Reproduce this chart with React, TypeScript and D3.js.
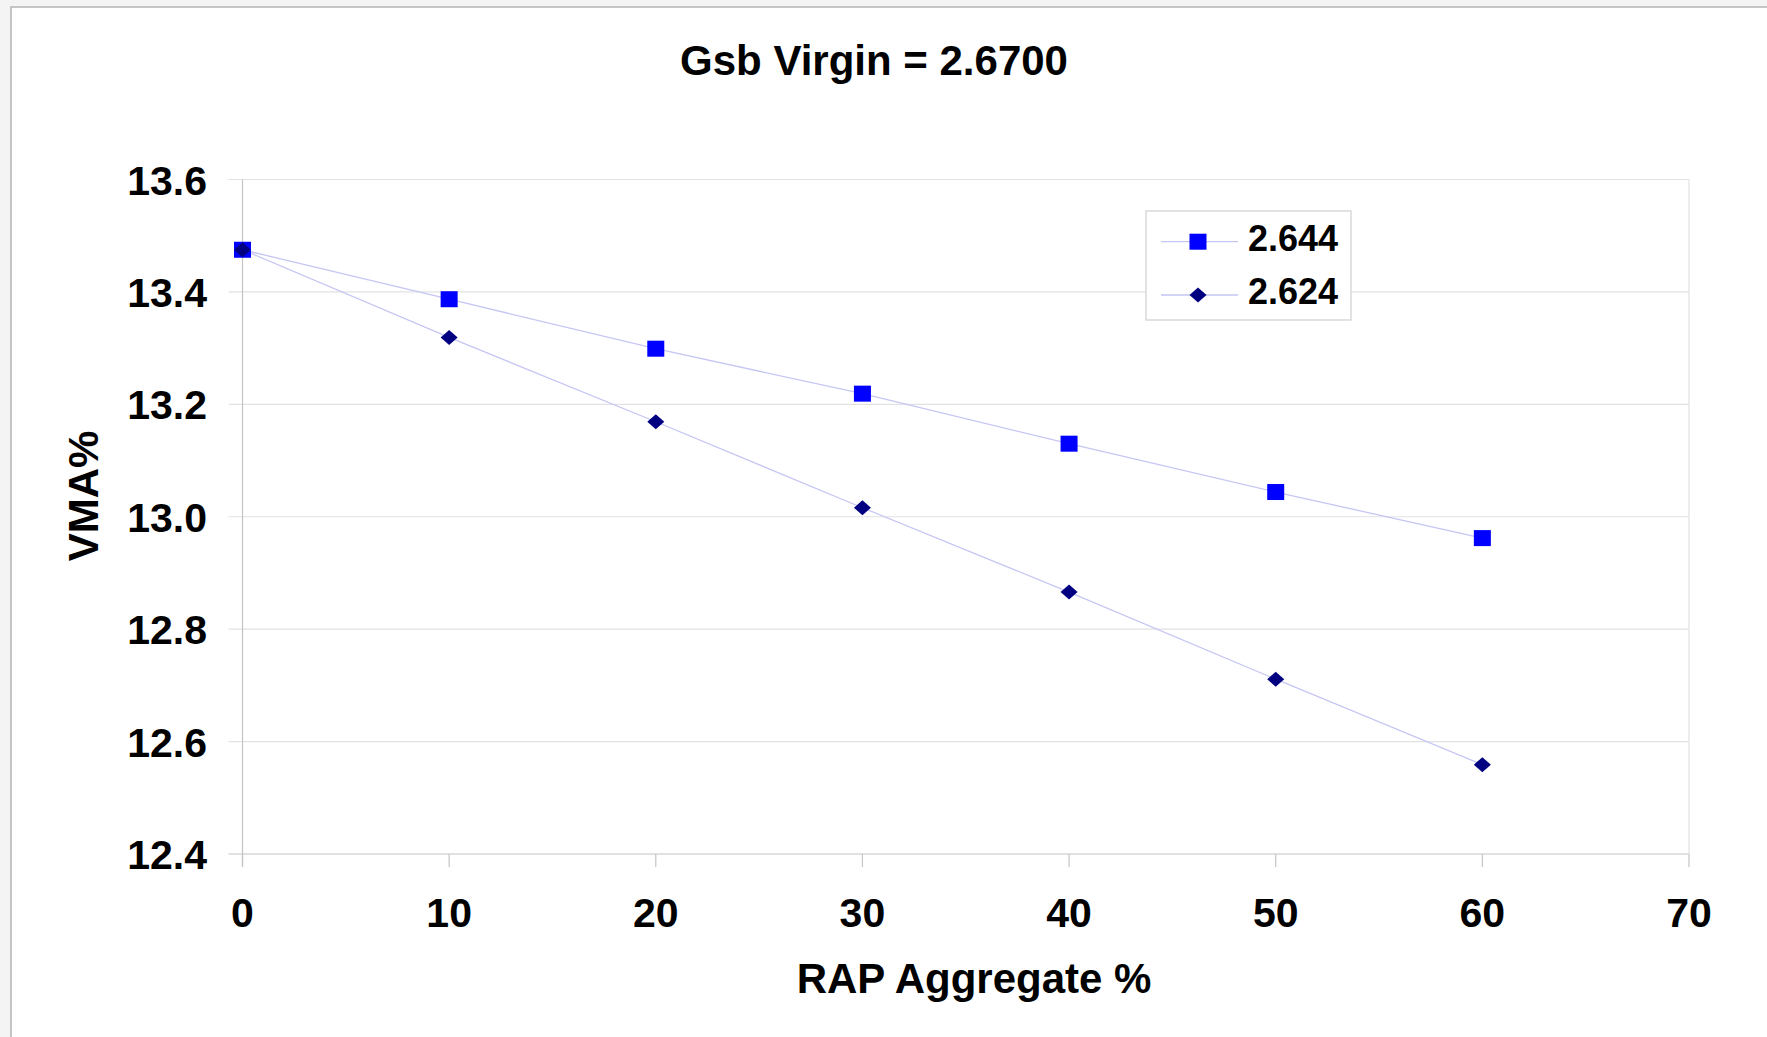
import { useRef, useEffect } from "react";
import * as d3 from "d3";

const rapPercent = [0, 10, 20, 30, 40, 50, 60];
const vma2644 = [13.475, 13.387, 13.299, 13.219, 13.13, 13.044, 12.962];
const vma2624 = [13.475, 13.319, 13.169, 13.016, 12.866, 12.711, 12.559];
const seriesNames = ["2.644", "2.624"];
const xTicks = [0, 10, 20, 30, 40, 50, 60, 70];
const yTicks = [12.4, 12.6, 12.8, 13.0, 13.2, 13.4, 13.6];

const W = 1767;
const H = 1037;
const FONT = "'Liberation Sans', Arial, sans-serif";

const App = () => {
  const svgRef = useRef<SVGSVGElement | null>(null);

  useEffect(() => {
    if (!svgRef.current) return;
    const svg = d3.select(svgRef.current);
    svg.selectAll("*").remove();

    // background + chart frame
    svg.append("rect").attr("width", W).attr("height", H).attr("fill", "#f4f4f4");
    svg
      .append("rect")
      .attr("x", 11)
      .attr("y", 7)
      .attr("width", W)
      .attr("height", H)
      .attr("fill", "#fff")
      .attr("stroke", "#b4b4b4")
      .attr("stroke-width", 1.5);

    const x = d3.scaleLinear().domain([0, 70]).range([242.5, 1689]);
    const y = d3.scaleLinear().domain([12.4, 13.6]).range([854, 179.5]);

    const g = svg.append("g");

    // gridlines
    g.selectAll("line.grid")
      .data(yTicks)
      .enter()
      .append("line")
      .attr("x1", x(0) - 14)
      .attr("x2", x(70))
      .attr("y1", (d) => y(d))
      .attr("y2", (d) => y(d))
      .attr("stroke", (d) => (d === 12.4 ? "#c4c4c4" : "#e2e2e2"))
      .attr("stroke-width", 1.2);

    // right border of plot
    g.append("line")
      .attr("x1", x(70))
      .attr("x2", x(70))
      .attr("y1", y(13.6))
      .attr("y2", y(12.4))
      .attr("stroke", "#e2e2e2")
      .attr("stroke-width", 1.2);

    // y axis line
    g.append("line")
      .attr("x1", x(0))
      .attr("x2", x(0))
      .attr("y1", y(13.6))
      .attr("y2", y(12.4) + 13)
      .attr("stroke", "#c4c4c4")
      .attr("stroke-width", 1.2);

    // x ticks
    g.selectAll("line.xtick")
      .data(xTicks)
      .enter()
      .append("line")
      .attr("x1", (d) => x(d))
      .attr("x2", (d) => x(d))
      .attr("y1", y(12.4))
      .attr("y2", y(12.4) + 13)
      .attr("stroke", "#c4c4c4")
      .attr("stroke-width", 1.2);

    // tick labels
    g.selectAll("text.xl")
      .data(xTicks)
      .enter()
      .append("text")
      .attr("x", (d) => x(d))
      .attr("y", 927)
      .attr("text-anchor", "middle")
      .attr("font-family", FONT)
      .attr("font-weight", "bold")
      .attr("font-size", 41)
      .text((d) => d);

    g.selectAll("text.yl")
      .data(yTicks)
      .enter()
      .append("text")
      .attr("x", 207)
      .attr("y", (d) => y(d) + 15)
      .attr("text-anchor", "end")
      .attr("font-family", FONT)
      .attr("font-weight", "bold")
      .attr("font-size", 41)
      .text((d) => d.toFixed(1));

    // series lines
    const line = d3
      .line<number>()
      .x((_, i) => x(rapPercent[i]))
      .y((d) => y(d));

    [vma2624, vma2644].forEach((s) => {
      g.append("path")
        .attr("d", line(s))
        .attr("fill", "none")
        .attr("stroke", "#c6c6f4")
        .attr("stroke-width", 1.3);
    });

    const diamond = (cx: number, cy: number) =>
      `M${cx - 8.5},${cy} L${cx},${cy - 7.5} L${cx + 8.5},${cy} L${cx},${cy + 7.5} Z`;

    // squares
    g.selectAll("rect.sq")
      .data(vma2644)
      .enter()
      .append("rect")
      .attr("x", (_, i) => x(rapPercent[i]) - 8.5)
      .attr("y", (d) => y(d) - 8)
      .attr("width", 17)
      .attr("height", 16)
      .attr("fill", "#0000ff");

    // diamonds
    g.selectAll("path.dm")
      .data(vma2624)
      .enter()
      .append("path")
      .attr("d", (d, i) => diamond(x(rapPercent[i]), y(d)))
      .attr("fill", "#000080");

    // legend
    const lg = svg.append("g");
    lg.append("rect")
      .attr("x", 1146)
      .attr("y", 211)
      .attr("width", 205)
      .attr("height", 109)
      .attr("fill", "#fff")
      .attr("stroke", "#cfcfcf")
      .attr("stroke-width", 1.2);
    const rows = [241.7, 295];
    rows.forEach((ry, i) => {
      lg.append("line")
        .attr("x1", 1161)
        .attr("x2", 1238)
        .attr("y1", ry)
        .attr("y2", ry)
        .attr("stroke", "#c6c6f4")
        .attr("stroke-width", 1.3);
      if (i === 0) {
        lg.append("rect")
          .attr("x", 1198 - 8.5)
          .attr("y", ry - 8)
          .attr("width", 17)
          .attr("height", 16)
          .attr("fill", "#0000ff");
      } else {
        lg.append("path").attr("d", diamond(1198, ry)).attr("fill", "#000080");
      }
      lg.append("text")
        .attr("x", 1248)
        .attr("y", ry + 9)
        .attr("font-family", FONT)
        .attr("font-weight", "bold")
        .attr("font-size", 36)
        .text(seriesNames[i]);
    });

    // titles
    svg
      .append("text")
      .attr("x", 874)
      .attr("y", 75)
      .attr("text-anchor", "middle")
      .attr("font-family", FONT)
      .attr("font-weight", "bold")
      .attr("font-size", 42)
      .text("Gsb Virgin = 2.6700");

    svg
      .append("text")
      .attr("x", 974)
      .attr("y", 993)
      .attr("text-anchor", "middle")
      .attr("font-family", FONT)
      .attr("font-weight", "bold")
      .attr("font-size", 42)
      .text("RAP Aggregate %");

    svg
      .append("text")
      .attr("transform", "translate(98,496) rotate(-90)")
      .attr("text-anchor", "middle")
      .attr("font-family", FONT)
      .attr("font-weight", "bold")
      .attr("font-size", 42)
      .text("VMA%");
  }, []);

  return (
    <svg
      ref={svgRef}
      width={W}
      height={H}
      style={{ position: "absolute", left: 0, top: 0, display: "block" }}
    ></svg>
  );
};

export default App;
